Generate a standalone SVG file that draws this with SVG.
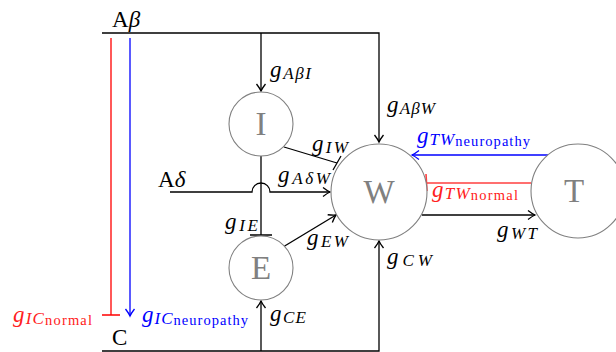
<svg xmlns="http://www.w3.org/2000/svg" width="616" height="352" viewBox="0 0 616 352">
<defs>
<marker id="ab" markerWidth="12" markerHeight="12" refX="0" refY="0" viewBox="-8 -6 10 12" orient="auto" markerUnits="userSpaceOnUse"><path d="M-7 -4.5 Q-2.5 -1 0 0 Q-2.5 1 -7 4.5" fill="none" stroke="#000" stroke-width="1.3"/></marker>
<marker id="au" markerWidth="12" markerHeight="12" refX="0" refY="0" viewBox="-8 -6 10 12" orient="auto" markerUnits="userSpaceOnUse"><path d="M-7 -4.5 Q-2.5 -1 0 0 Q-2.5 1 -7 4.5" fill="none" stroke="#0000ff" stroke-width="1.3"/></marker>
</defs>
<style>
.k{fill:none;stroke:#000;stroke-width:1.3}
.r{fill:none;stroke:#ff0000;stroke-width:1.3}
.r2{fill:none;stroke:#ff4040;stroke-width:1.6}
.b{fill:none;stroke:#0000ff;stroke-width:1.3}
.n{fill:#fff;stroke:#808080;stroke-width:1.1}
.nl{font-family:"Liberation Serif","DejaVu Serif",serif;font-size:33px;fill:#808080;text-anchor:middle}
.m{font-family:"Liberation Serif","DejaVu Serif",serif;font-style:italic;font-size:23px;fill:#000}
.s{font-size:17px}
.t{font-style:normal;font-size:14.5px}
.lab{font-family:"Liberation Serif","DejaVu Serif",serif;font-size:23px;fill:#000}
.red{fill:#ff2020}
.blue{fill:#0000ff}
</style>
<g id="connectors">
<path class="k" d="M102 33 H379 V142" marker-end="url(#ab)"/>
<path class="k" d="M261 33 V91" marker-end="url(#ab)"/>
<path class="k" d="M261 156 V235 M250 235 H272"/>
<path class="k" d="M170 192 H252 A9 9 0 0 1 270 192 H330" marker-end="url(#ab)"/>
<path class="k" d="M102 351 H379 V241" marker-end="url(#ab)"/>
<path class="k" d="M261 351 V301" marker-end="url(#ab)"/>
<path class="r" d="M111 38 V315 M102 315 H120"/>
<path class="b" d="M130 38 V316" marker-end="url(#au)"/>
<path class="k" d="M284 147 L337 163 M333 170 L341 156"/>
<path class="k" d="M283 247 L336 215" marker-end="url(#ab)"/>
<path class="k" d="M422 215 H535" marker-end="url(#ab)"/>
<path class="r2" d="M531 183 H427 M426 174 L427 191"/>
<path class="b" d="M548 155 H412" marker-end="url(#au)"/>
</g>
<g id="node-I"><circle class="n" cx="261" cy="124" r="32"/><text class="nl" x="261" y="135">I</text></g>
<g id="node-E"><circle class="n" cx="261" cy="268" r="32"/><text class="nl" x="261" y="279">E</text></g>
<g id="node-W"><circle class="n" cx="379" cy="192" r="48"/><text class="nl" x="379" y="203">W</text></g>
<g id="node-T"><circle class="n" cx="578" cy="191" r="47"/><text class="nl" x="574" y="202">T</text></g>
<g id="labels">
<text class="lab" x="112" y="27">A<tspan font-style="italic">β</tspan></text>
<text class="lab" x="158" y="187">A<tspan font-style="italic">δ</tspan></text>
<text class="lab" x="112" y="345">C</text>
<text class="m" x="270" y="77" textLength="41">g<tspan class="s" dy="2">AβI</tspan></text>
<text class="m" x="387" y="112" textLength="48">g<tspan class="s" dy="2">AβW</tspan></text>
<text class="m" x="312" y="151" textLength="36">g<tspan class="s" dy="2">IW</tspan></text>
<text class="m" x="278" y="182" textLength="52">g<tspan class="s" dy="2">AδW</tspan></text>
<text class="m" x="225" y="229" textLength="33">g<tspan class="s" dy="2">IE</tspan></text>
<text class="m" x="307" y="245" textLength="41">g<tspan class="s" dy="2">EW</tspan></text>
<text class="m" x="387" y="264" textLength="45">g<tspan class="s" dy="2">CW</tspan></text>
<text class="m" x="270" y="321" textLength="36">g<tspan class="s" dy="2">CE</tspan></text>
<text class="m" x="497" y="237" textLength="40">g<tspan class="s" dy="2">WT</tspan></text>
<text class="m blue" x="417" y="143" textLength="113">g<tspan class="s" dy="2">TW</tspan><tspan class="t" dy="1">neuropathy</tspan></text>
<text class="m red" x="432" y="197" textLength="86">g<tspan class="s" dy="2">TW</tspan><tspan class="t" dy="1">normal</tspan></text>
<text class="m red" x="13" y="322" textLength="79">g<tspan class="s" dy="2">IC</tspan><tspan class="t" dy="1">normal</tspan></text>
<text class="m blue" x="142" y="322" textLength="106">g<tspan class="s" dy="2">IC</tspan><tspan class="t" dy="1">neuropathy</tspan></text>
</g>
</svg>
